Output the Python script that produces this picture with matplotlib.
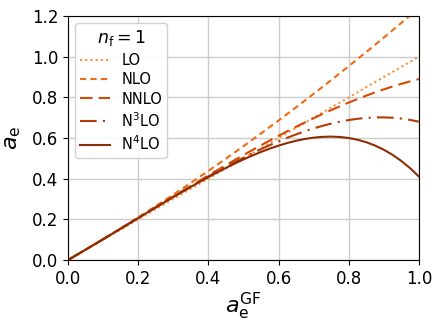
import matplotlib
matplotlib.use("Agg")
import matplotlib.pyplot as plt

# coupling values
a_gf = [0.0, 0.05, 0.10, 0.15, 0.20, 0.25, 0.30, 0.35, 0.40,
        0.425, 0.45, 0.475, 0.50, 0.525, 0.55, 0.575, 0.60, 0.625, 0.65, 0.675, 0.70,
        0.725, 0.75, 0.775, 0.80, 0.825, 0.85, 0.875, 0.90, 0.925, 0.95, 0.975, 1.0]

lo = list(a_gf)
nlo = [0.0, 0.0506, 0.1024, 0.1554, 0.2096, 0.2650, 0.3216, 0.3794, 0.4384,
       0.4684, 0.4986, 0.5292, 0.5600, 0.5912, 0.6226, 0.6544, 0.6864, 0.7188, 0.7514, 0.7844, 0.8176,
       0.8512, 0.8850, 0.9192, 0.9536, 0.9884, 1.0234, 1.0588, 1.0944, 1.1304, 1.1666, 1.2032, 1.2400]
nnlo = [0.0, 0.0506, 0.1021, 0.1542, 0.2068, 0.2595, 0.3122, 0.3644, 0.4160,
        0.4415, 0.4667, 0.4917, 0.5163, 0.5405, 0.5644, 0.5878, 0.6108, 0.6333, 0.6553, 0.6767, 0.6976,
        0.7178, 0.7373, 0.7562, 0.7744, 0.7918, 0.8085, 0.8243, 0.8393, 0.8533, 0.8665, 0.8787, 0.8900]
n3lo = [0.0, 0.0506, 0.1020, 0.1541, 0.2065, 0.2587, 0.3105, 0.3612, 0.4106,
        0.4346, 0.4581, 0.4810, 0.5031, 0.5245, 0.5452, 0.5649, 0.5836, 0.6013, 0.6178, 0.6331, 0.6471,
        0.6598, 0.6709, 0.6804, 0.6884, 0.6945, 0.6989, 0.7012, 0.7015, 0.6996, 0.6955, 0.6890, 0.6800]
n4lo = [0.0, 0.0506, 0.1020, 0.1541, 0.2064, 0.2585, 0.3098, 0.3598, 0.4079,
        0.4309, 0.4531, 0.4745, 0.4947, 0.5138, 0.5316, 0.5479, 0.5626, 0.5755, 0.5865, 0.5953, 0.6017,
        0.6057, 0.6068, 0.6049, 0.5999, 0.5914, 0.5791, 0.5627, 0.5421, 0.5168, 0.4866, 0.4511, 0.4100]

labels = ["LO", "NLO", "NNLO", r"N$^3$LO", r"N$^4$LO"]
series = [lo, nlo, nnlo, n3lo, n4lo]
colors = ["#fd8d3c", "#f16913", "#d94801", "#b13d05", "#8c2d04"]
styles = [(0, (1, 1.5)), (0, (3, 2)), (0, (6, 3)), (0, (8, 3, 1, 3)), "-"]

fig = plt.figure(figsize=(4.42, 3.25), dpi=100)
ax = fig.add_axes([68 / 442, 65 / 325, 351 / 442, 244 / 325])

for y, lab, c, ls in zip(series, labels, colors, styles):
    ax.plot(a_gf, y, color=c, ls=ls, lw=1.5, label=lab)

ax.set_xlim(0, 1)
ax.set_ylim(0, 1.2)
ax.set_xticks([0.0, 0.2, 0.4, 0.6, 0.8, 1.0])
ax.set_yticks([0.0, 0.2, 0.4, 0.6, 0.8, 1.0, 1.2])
ax.tick_params(labelsize=12)
ax.grid(color="#cccccc", lw=1)
ax.set_axisbelow(True)
ax.set_xlabel(r"$a_\mathrm{e}^\mathrm{GF}$", fontsize=16, labelpad=2)
ax.set_ylabel(r"$a_\mathrm{e}$", fontsize=16, labelpad=6)

leg = ax.legend(title=r"$n_\mathrm{f}=1$", loc="upper left", fontsize=10.5,
                title_fontsize=12.5, handlelength=2.0, labelspacing=0.3,
                borderpad=0.35, framealpha=0.9)

fig.savefig("out.png", dpi=100)
